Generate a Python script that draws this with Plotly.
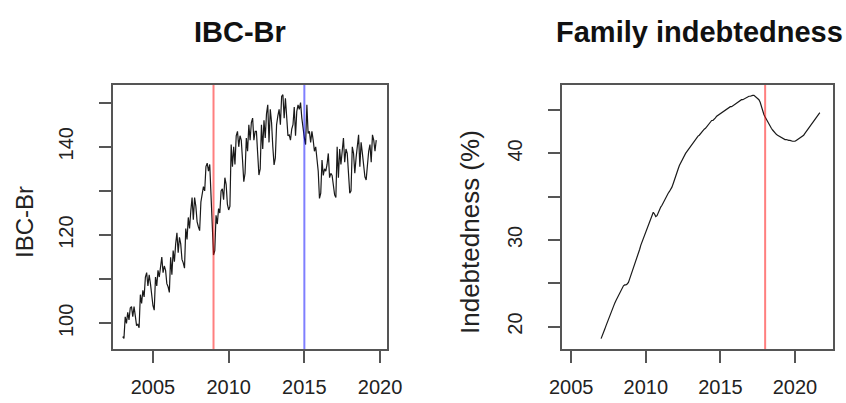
import plotly.graph_objects as go

# ---------------- data ----------------
ibc_start_year = 2003
ibc_values = [
    97.0, 96.6, 101.5, 100.0, 102.5, 100.8, 103.5, 103.8, 101.5, 103.8, 101.7, 99.5,   # 2003
    99.8, 99.0, 106.5, 104.5, 107.5, 106.0, 110.5, 111.5, 108.5, 111.0, 109.0, 106.0,  # 2004
    104.0, 103.0, 110.5, 108.5, 112.0, 110.5, 113.5, 115.0, 111.5, 113.0, 112.0, 109.0,  # 2005
    108.3, 107.0, 115.0, 111.0, 116.5, 114.0, 118.0, 120.5, 116.0, 119.5, 118.0, 114.5,  # 2006
    113.7, 112.5, 121.5, 119.0, 124.0, 121.5, 125.5, 128.5, 123.5, 128.5, 126.5, 123.0,  # 2007
    121.9, 121.0, 127.5, 129.0, 131.0, 130.0, 135.5, 136.3, 134.5, 136.0, 128.5, 119.0,  # 2008
    115.5, 116.5, 124.5, 122.5, 126.0, 125.0, 130.0, 130.5, 128.0, 133.0, 131.5, 127.0,  # 2009
    125.7, 126.5, 140.5, 135.5, 140.0, 136.0, 142.5, 143.5, 140.0, 142.5, 141.5, 137.0,  # 2010
    132.1, 134.0, 142.0, 139.0, 145.0, 141.5, 145.5, 146.5, 141.5, 143.5, 143.5, 138.5,  # 2011
    133.6, 135.0, 145.0, 139.5, 146.0, 142.0, 147.5, 149.5, 141.0, 148.5, 145.5, 140.0,  # 2012
    135.9, 137.5, 145.0, 147.0, 148.5, 145.0, 151.4, 151.8, 146.5, 151.0, 147.5, 142.5,  # 2013
    142.7, 141.5, 144.0, 145.0, 149.0, 142.5, 148.0, 149.5, 148.5, 150.0, 146.5, 143.5,  # 2014
    142.0, 140.5, 149.5, 143.0, 143.5, 141.0, 143.5, 141.5, 139.0, 140.0, 137.0, 134.5,  # 2015
    128.3, 129.5, 137.0, 133.5, 135.0, 134.5, 136.0, 138.5, 133.0, 134.0, 133.5, 131.0,  # 2016
    129.1, 128.5, 140.0, 133.0, 139.5, 136.0, 138.5, 142.0, 136.5, 139.5, 138.5, 135.0,  # 2017
    129.5, 130.0, 140.0, 138.5, 134.0, 137.5, 141.0, 142.7, 135.5, 141.0, 138.5, 136.0,  # 2018
    133.2, 132.5, 136.5, 139.0, 140.5, 136.5, 142.7, 141.5, 139.0, 141.5,              # 2019
]

fam_start_year = 2007
fam_values = [
    18.6, 18.9, 19.3, 19.7, 20.1, 20.5, 20.9, 21.3, 21.7, 22.0, 22.3, 22.7,  # 2007
    23.0, 23.3, 23.6, 23.9, 24.2, 24.5, 24.7, 24.8, 24.8, 24.9, 25.1, 25.5,  # 2008
    25.9, 26.3, 26.8, 27.2, 27.6, 28.0, 28.5, 28.9, 29.4, 29.8, 30.2, 30.6,  # 2009
    30.9, 31.3, 31.7, 32.1, 32.6, 33.0, 33.2, 33.0, 32.7, 32.8, 33.2, 33.6,  # 2010
    33.8, 34.0, 34.3, 34.6, 34.9, 35.2, 35.4, 35.6, 35.8, 36.1, 36.5, 37.0,  # 2011
    37.4, 37.8, 38.2, 38.6, 38.9, 39.2, 39.5, 39.8, 40.0, 40.2, 40.4, 40.7,  # 2012
    40.9, 41.1, 41.3, 41.5, 41.7, 41.9, 42.0, 42.1, 42.3, 42.5, 42.6, 42.8,  # 2013
    42.9, 43.1, 43.3, 43.5, 43.6, 43.8, 43.8, 43.9, 44.1, 44.3, 44.4, 44.5,  # 2014
    44.6, 44.7, 44.8, 44.9, 45.0, 45.2, 45.2, 45.3, 45.4, 45.4, 45.5, 45.6,  # 2015
    45.7, 45.8, 45.9, 46.0, 46.1, 46.2, 46.2, 46.3, 46.4, 46.5, 46.5, 46.6,  # 2016
    46.6, 46.7, 46.7, 46.7, 46.6, 46.5, 46.4, 46.2, 45.9, 45.4, 44.8, 44.5,  # 2017
    44.2, 43.9, 43.6, 43.3, 43.1, 42.9, 42.7, 42.5, 42.4, 42.2, 42.1, 42.0,  # 2018
    41.9, 41.8, 41.7, 41.7, 41.6, 41.6, 41.5, 41.5, 41.5, 41.4, 41.4, 41.4,  # 2019
    41.4, 41.5, 41.6, 41.6, 41.7, 41.8, 41.9, 42.1, 42.3, 42.5, 42.7, 42.9,  # 2020
    43.1, 43.3, 43.6, 43.8, 44.0, 44.2, 44.4, 44.6, 44.7,                    # 2021
]

ibc_events = [2009.0, 2015.0]
ibc_event_colors = ["rgba(255,0,0,0.5)", "rgba(0,0,255,0.5)"]
fam_events = [2018.0]
fam_event_colors = ["rgba(255,0,0,0.5)"]

x_ticks = [2005, 2010, 2015, 2020]
ibc_yticks = [100, 110, 120, 130, 140, 150]
ibc_yticktext = ["100", "", "120", "", "140", ""]
fam_yticks = [20, 25, 30, 35, 40, 45]
fam_yticktext = ["20", "", "30", "", "40", ""]

titles = ["IBC-Br", "Family indebtedness"]
ylabels = ["IBC-Br", "Indebtedness (%)"]

# monthly time index as decimal years (like an R ts object)
ibc_t = [ibc_start_year + i / 12 for i in range(len(ibc_values))]
fam_t = [fam_start_year + i / 12 for i in range(len(fam_values))]

# ---------------- layout helpers ----------------
W, H = 846, 403
def px(x):
    return x / W
def py(y):
    return 1 - y / H

FONT = "Liberation Sans, Arial, sans-serif"
AXC = "#555555"

fig = go.Figure()
fig.add_trace(go.Scatter(x=ibc_t, y=ibc_values, mode="lines",
                         line=dict(color="#1a1a1a", width=1.2), xaxis="x", yaxis="y",
                         showlegend=False, hoverinfo="skip"))
fig.add_trace(go.Scatter(x=fam_t, y=fam_values, mode="lines",
                         line=dict(color="#1a1a1a", width=1.2), xaxis="x2", yaxis="y2",
                         showlegend=False, hoverinfo="skip"))

def xaxis(dom, rng, anchor):
    return dict(domain=dom, range=rng, anchor=anchor, tickvals=x_ticks, automargin=False,
                showgrid=False, zeroline=False, showline=True, mirror=True,
                linecolor=AXC, linewidth=1.5, ticks="outside", ticklen=12,
                tickwidth=1.5, tickcolor=AXC, ticklabelstandoff=7,
                tickfont=dict(family=FONT, size=20, color="#222222"))

def yaxis(dom, rng, anchor, vals, text):
    return dict(domain=dom, range=rng, anchor=anchor, tickvals=vals, ticktext=text,
                automargin=False,
                showgrid=False, zeroline=False, showline=True, mirror=True,
                linecolor=AXC, linewidth=1.5, ticks="outside", ticklen=12,
                tickwidth=1.5, tickcolor=AXC, tickangle=-90, ticklabelstandoff=18,
                tickfont=dict(family=FONT, size=20, color="#222222"))

ydom = [py(349), py(85)]
fig.update_layout(
    template="none",
    width=W, height=H, autosize=False,
    margin=dict(l=0, r=0, t=0, b=0, pad=0),
    paper_bgcolor="white", plot_bgcolor="white",
    xaxis=xaxis([px(113), px(387)], [2002.36, 2020.46], "y"),
    yaxis=yaxis(ydom, [94.2, 154.0], "x", ibc_yticks, ibc_yticktext),
    xaxis2=xaxis([px(562), px(833)], [2004.38, 2022.55], "y2"),
    yaxis2=yaxis(ydom, [17.4, 47.9], "x2", fam_yticks, fam_yticktext),
)

shapes = []
for xv, c in zip(ibc_events, ibc_event_colors):
    shapes.append(dict(type="line", xref="x", yref="y domain", x0=xv, x1=xv, y0=0, y1=1,
                       line=dict(color=c, width=2)))
for xv, c in zip(fam_events, fam_event_colors):
    shapes.append(dict(type="line", xref="x2", yref="y2 domain", x0=xv, x1=xv, y0=0, y1=1,
                       line=dict(color=c, width=2)))
fig.update_layout(shapes=shapes)

ann = []
ann.append(dict(text="<b>" + titles[0] + "</b>", x=px(240), y=py(32), xref="paper", yref="paper",
                showarrow=False, xanchor="center", yanchor="middle",
                font=dict(family=FONT, size=29, color="#111111")))
ann.append(dict(text="<b>" + titles[1] + "</b>", x=px(699), y=py(32), xref="paper", yref="paper",
                showarrow=False, xanchor="center", yanchor="middle",
                font=dict(family=FONT, size=29, color="#111111")))
ann.append(dict(text=ylabels[0], x=px(24), y=py(222), xref="paper", yref="paper",
                showarrow=False, xanchor="center", yanchor="middle", textangle=-90,
                font=dict(family=FONT, size=24, color="#222222")))
ann.append(dict(text=ylabels[1], x=px(470), y=py(232), xref="paper", yref="paper",
                showarrow=False, xanchor="center", yanchor="middle", textangle=-90,
                font=dict(family=FONT, size=26, color="#222222")))
fig.update_layout(annotations=ann)

fig.write_html("out.html", config={"displayModeBar": False},
               post_script="document.body.style.margin='0';")
